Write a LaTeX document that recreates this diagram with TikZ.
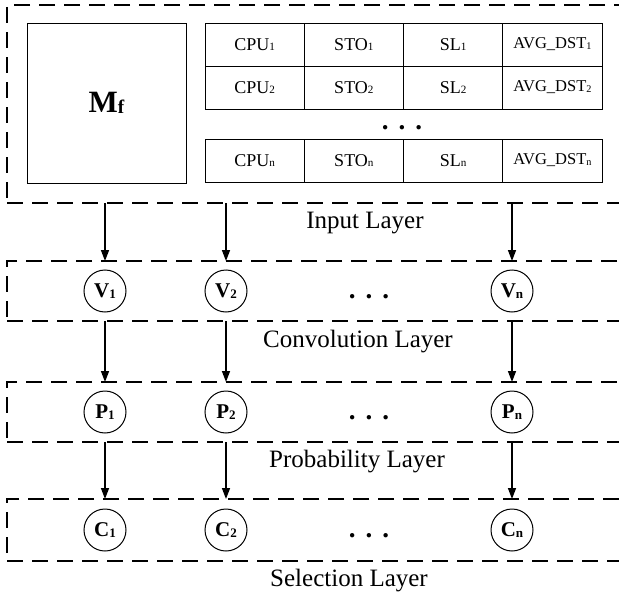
\documentclass[tikz,border=0pt]{standalone}
\usepackage{fontspec}
\usepackage{graphicx}
\setmainfont{Liberation Serif}
\usetikzlibrary{arrows.meta,positioning}

\tikzset{
  layer/.style={draw, line width=2pt, dash pattern=on 16pt off 9pt, minimum width=700pt,
    anchor=north west, inner sep=0pt, outer sep=0pt},
  cell/.style={draw, line width=1pt, minimum width=99.25pt, minimum height=43pt,
    inner sep=0pt, outer sep=0pt},
  unit/.style={circle, draw, line width=1pt, minimum size=42pt, inner sep=0pt,
    font=\fontsize{21}{21}\selectfont\bfseries},
  lbl/.style={font=\fontsize{25}{25}\selectfont},
  dots/.style={inner sep=0pt, font=\fontsize{27}{27}\selectfont},
  flow/.style={line width=1.5pt, -{Triangle[length=11pt,width=8pt]}},
}
\newcommand{\rowdots}{\textbf{.\hspace{10pt}.\hspace{10pt}.}}
\newcommand{\idx}[1]{\raisebox{-0.5pt}{\scalebox{0.62}{#1}}}

\begin{document}
\begin{tikzpicture}[x=1pt,y=-1pt]
	\useasboundingbox (0,0) rectangle (619,597);
	\clip (0,0) rectangle (619,597);
	% layers
	\node[layer, minimum height=198pt] (input) at (7,5) {};
	\node[layer, minimum height=60pt] (conv) at (7,261) {};
	\node[layer, minimum height=60pt] (prob) at (7,382) {};
	\node[layer, minimum height=62pt] (sel) at (7,499) {};
	% input
	\node[draw, line width=1pt, minimum width=159pt, minimum height=160pt,
	  font=\fontsize{31}{31}\selectfont\bfseries] (mf) at (106.5,103) {M\idx{f}};
	\foreach \col/\txt/\fs [count=\c] in {cpu/CPU/18, sto/STO/18, sl/SL/18, dst/AVG\_DST/16.5} {
		\foreach \row/\y in {1/44.5, 2/87.5, n/160.5}
			\node[cell, font=\fontsize{\fs}{\fs}\selectfont] (\col\row) at ({205+99.25*(\c-0.5)},\y) {\txt\idx{\row}};
	}
	\node[dots] (tabdots) at (402,128) {\rowdots};
	% units
	\foreach \lay/\L/\y in {v/V/291, p/P/412, c/C/530} {
		\foreach \k/\x in {1/105, 2/226, n/512}
			\node[unit] (\lay\k) at (\x,\y) {\L\idx{\k}};
		\node[dots] (\lay-dots) at (369,\y+6) {\rowdots};
	}
	% layer names
	\node[lbl] (inputname) at (365,223) {Input Layer};
	\node[lbl] (convname) at (358,342) {Convolution Layer};
	\node[lbl] (probname) at (357,462) {Probability Layer};
	\node[lbl] (selname) at (349,581) {Selection Layer};
	% arrows
	\foreach \k in {1,2,n} {
		\draw[flow] (v\k |- input.south) -- (v\k |- conv.north);
		\draw[flow] (p\k |- conv.south) -- (p\k |- prob.north);
		\draw[flow] (c\k |- prob.south) -- (c\k |- sel.north);
	}
\end{tikzpicture}
\end{document}
